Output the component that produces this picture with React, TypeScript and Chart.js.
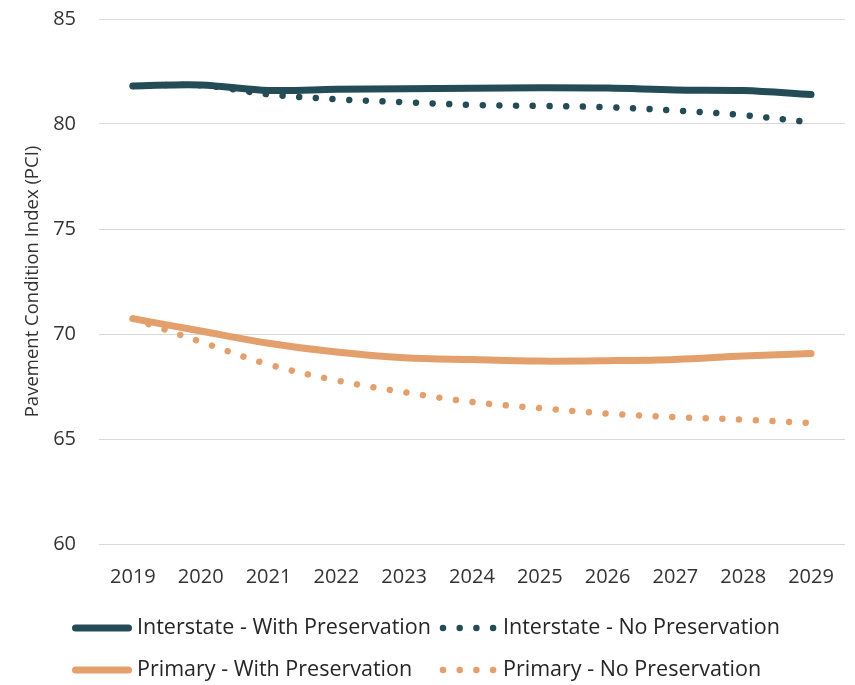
import React, { useEffect, useRef } from "react";
import { Chart, registerables } from "chart.js";

Chart.register(...registerables);

const years = ["2019", "2020", "2021", "2022", "2023", "2024", "2025", "2026", "2027", "2028", "2029"];
const interstateWith = [81.81, 81.86, 81.6, 81.65, 81.68, 81.7, 81.73, 81.71, 81.62, 81.59, 81.4];
const interstateNo = [81.81, 81.84, 81.41, 81.18, 81.04, 80.91, 80.86, 80.8, 80.64, 80.42, 80.08];
const primaryWith = [70.73, 70.14, 69.56, 69.14, 68.87, 68.78, 68.71, 68.73, 68.79, 68.95, 69.07];
const primaryNo = [70.73, 69.63, 68.55, 67.79, 67.23, 66.76, 66.47, 66.21, 66.04, 65.92, 65.76];
const seriesLabels = [
  "Interstate - With Preservation",
  "Interstate - No Preservation",
  "Primary - With Preservation",
  "Primary - No Preservation",
];
const yTitle = "Pavement Condition Index (PCI)";

const TEAL = "#244c57";
const ORANGE = "#e3a06d";
const FONT = "'Open Sans', 'Noto Sans', sans-serif";
const DOT = [0.001, 16.7];

const legendPlugin = {
  id: "customLegend",
  afterDraw(chart: any) {
    const ctx = chart.ctx;
    const cols = [72, 438];
    const rows = [628, 670];
    chart.data.datasets.forEach((ds: any, i: number) => {
      const x = cols[i % 2];
      const y = rows[Math.floor(i / 2)];
      ctx.save();
      ctx.strokeStyle = ds.borderColor;
      ctx.lineWidth = ds.borderWidth;
      ctx.lineCap = "round";
      ctx.setLineDash(ds.borderDash || []);
      ctx.beginPath();
      if (ds.borderDash && ds.borderDash.length) {
        ctx.moveTo(x + 5, y);
        ctx.lineTo(x + 58, y);
      } else {
        ctx.moveTo(x + 3.5, y);
        ctx.lineTo(x + 56.5, y);
      }
      ctx.stroke();
      ctx.setLineDash([]);
      ctx.fillStyle = "#262626";
      ctx.font = `21.5px ${FONT}`;
      ctx.textBaseline = "middle";
      ctx.textAlign = "left";
      ctx.fillText(ds.label, x + 65, y);
      ctx.restore();
    });
  },
};

export default function App() {
  const ref = useRef<HTMLCanvasElement>(null);
  useEffect(() => {
    if (!ref.current) return;
    const chart = new Chart(ref.current, {
      type: "line",
      data: {
        labels: years,
        datasets: [
          {
            label: seriesLabels[0],
            data: interstateWith,
            borderColor: TEAL,
            backgroundColor: TEAL,
            borderWidth: 7,
            borderCapStyle: "round",
            pointRadius: 0,
            tension: 0.35,
          },
          {
            label: seriesLabels[1],
            data: interstateNo,
            borderColor: TEAL,
            backgroundColor: TEAL,
            borderWidth: 6.5,
            borderDash: DOT,
            borderCapStyle: "round",
            pointRadius: 0,
            tension: 0.35,
          },
          {
            label: seriesLabels[2],
            data: primaryWith,
            borderColor: ORANGE,
            backgroundColor: ORANGE,
            borderWidth: 7,
            borderCapStyle: "round",
            pointRadius: 0,
            tension: 0.35,
          },
          {
            label: seriesLabels[3],
            data: primaryNo,
            borderColor: ORANGE,
            backgroundColor: ORANGE,
            borderWidth: 6.5,
            borderDash: DOT,
            borderCapStyle: "round",
            pointRadius: 0,
            tension: 0.35,
          },
        ],
      },
      options: {
        responsive: false,
        animation: false,
        devicePixelRatio: 1,
        layout: { padding: { top: 0, right: 2, bottom: 91, left: 0 } },
        plugins: {
          legend: { display: false },
          tooltip: { enabled: false },
        },
        scales: {
          x: {
            offset: true,
            grid: { display: false, drawTicks: false },
            border: { display: false },
            ticks: { color: "#333333", font: { family: FONT, size: 20 }, padding: 21, maxRotation: 0 },
            afterFit: (s: any) => {
              s.height = 50;
            },
          },
          y: {
            min: 60,
            max: 85,
            ticks: { stepSize: 5, color: "#333333", font: { family: FONT, size: 20 }, padding: 7 },
            grid: {
              color: "#d9d9d9",
              lineWidth: 1,
              drawTicks: true,
              tickLength: 16,
              tickColor: "rgba(0,0,0,0)",
            },
            border: { display: false },
            title: {
              display: true,
              text: yTitle,
              color: "#333333",
              font: { family: FONT, size: 18.5 },
              padding: { top: 22, bottom: 0 },
            },
            afterFit: (s: any) => {
              s.width = 99;
            },
          },
        },
      },
      plugins: [legendPlugin],
    } as any);
    return () => chart.destroy();
  }, []);
  return (
    <div style={{ position: "fixed", left: 0, top: 0, width: 855, height: 685, background: "#fff" }}>
      <canvas ref={ref} width={855} height={685} />
    </div>
  );
}
